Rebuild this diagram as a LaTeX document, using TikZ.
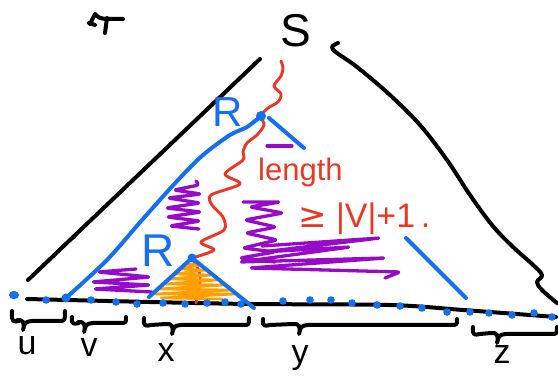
\documentclass[tikz,border=0pt]{standalone}
\usepackage{fontspec}
\setmainfont{Liberation Sans}
\newfontfamily\symf{DejaVu Sans}
\definecolor{pblue}{RGB}{20,112,240}
\definecolor{pred}{RGB}{235,55,35}
\definecolor{ppurple}{RGB}{150,10,200}
\definecolor{porange}{RGB}{255,160,0}
\newcommand\mybr[5]{% x1, xt, x2, ytop, ybase
  \draw[blk] ({#1},{#4}) .. controls ({#1-1},{#5+2}) and ({#1+2},{#5+1}) .. ({#1+7},{#5})
    -- ({#2-7},{#5-1}) .. controls ({#2-1},{#5-2}) and ({#2+1},{#5+2}) .. ({#2-1},{#5+9})
    .. controls ({#2+1},{#5+1}) .. ({#2+8},{#5})
    -- ({#3-6},{#5}) .. controls ({#3},{#5}) .. ({#3},{#4});}
\begin{document}
\begin{tikzpicture}[x=1pt,y=-1pt,
  ink/.style={line width=4pt,line cap=round,line join=round},
  blk/.style={ink,black},
  blu/.style={ink,pblue},
  redw/.style={line width=2.9pt,line cap=round,line join=round,pred},
  purp/.style={line width=3.3pt,line cap=round,line join=round,ppurple,rounded corners=2.5pt},
  oran/.style={line width=2.6pt,line cap=round,line join=round,porange,rounded corners=2pt},
  lbl/.style={inner sep=0pt,anchor=base,font=\fontsize{34}{34}\selectfont},
  bluetxt/.style={inner sep=0pt,anchor=base,text=pblue},
  redtxt/.style={inner sep=0pt,anchor=base west,text=pred}]
\useasboundingbox (0,0) rectangle (558,377);

% tau-like mark
\draw[blk] (90,24) -- (95,14) .. controls (99,18) .. (106,19) -- (123,19);
\draw[blk] (107,18) -- (105,33);
\draw[blk] (89,23) -- (95,25);

% outer tree
\draw[blk] (260,59) -- (28,280);
\draw[blk,line width=2.6pt] (70,240) -- (75,237);
\draw[blk] plot[smooth,tension=0.6] coordinates {(338,43) (332,47) (337,53) (357,67) (390,95) (420,125) (447,160) (470,195) (492,225) (512,246) (532,264) (542,275) (537,282) (542,290) (557,303)};
\draw[blk] plot[smooth] coordinates {(27,299) (150,302) (250,304) (390,305) (463,310) (556,317)};

% purple scribbles
\draw[purp] (196,181) -- (199,185) -- (174,190) -- (201,194) -- (168,198) -- (200,203) -- (166,208) -- (201,212) -- (167,217) -- (200,221) -- (170,226) -- (199,229);
\draw[purp] (136,269) -- (98,272) -- (150,277) -- (92,282) -- (150,285) -- (94,289) -- (152,292);
\draw[purp] (243,202) -- (280,202) -- (250,207) -- (283,213) -- (245,220) -- (276,227) -- (246,233) -- (277,240) -- (243,248) -- (275,252) -- (240,258) -- (275,262);
\draw[purp] (262,246) -- (380,238) -- (262,252) -- (350,247) -- (240,262) -- (385,258) -- (250,268) -- (400,272) -- (385,278);
\draw[purp] (267,146) -- (292,146);

% blue parse subtree
\coordinate (r1) at (261,116);
\coordinate (r2) at (192,258);
\draw[blu] plot[smooth] coordinates {(261,116) (247,127) (230,135) (203,155) (178,180) (142,220) (107,260) (67,297)};
\draw[blu] (269,118) -- (304,148);
\draw[blu] (406,238) -- (466,298);

% red path
\draw[redw] plot[smooth] coordinates {(281,61) (283,68) (281,76) (274,86) (281,94) (278,102) (268,108) (261,116) (264,125) (257,135) (247,143) (243,152) (243,160) (225,174) (240,184) (211,195) (212,205) (223,217) (224,230) (201,242) (214,250) (192,258)};
\draw[redw] (r2) .. controls (202,275) .. (196,303);

% inner subtree
\draw[oran] (185,264) -- (200,265) -- (179,269) -- (206,270) -- (174,274) -- (212,275) -- (169,279) -- (218,280) -- (164,284) -- (225,285) -- (158,289) -- (232,290) -- (153,294) -- (236,294) -- (160,298) -- (222,299);
\draw[blu] (149,297) -- (r2) -- (254,308);
\fill[pblue] (r1) circle (5);
\fill[pblue] (r2) circle (4.5);

% blue dotted yield
\fill[pblue] (14,295) ellipse (5 and 4.2);
\fill[pblue] (66,298) circle (4.5);
\foreach \p in {(46,300),(91,300),(116,302),(137,304),(163,303),(185,304),(207,303),(225,302),(241,304),(283,301),(310,300),(331,300),(352,303),(377,305),(400,306),(422,308),(447,312),(470,312),(489,313),(512,315),(534,313),(552,317)}
  \fill[pblue] \p circle (3.8);

% braces
\mybr{12}{24}{65}{311}{321}
\mybr{72}{85}{126}{317}{323}
\mybr{144}{173}{249}{318}{325}
\mybr{263}{300}{457}{319}{325}
\mybr{473}{498}{557}{327}{334}

% texts
\node[inner sep=0pt,anchor=base,font=\fontsize{46}{46}\selectfont] (S) at (296,47) {S};
\node[bluetxt,font=\fontsize{42}{42}\selectfont] (R1) at (228,127) {R};
\node[bluetxt,font=\fontsize{46}{46}\selectfont] (R2) at (158,267) {R};
\node[redtxt,font=\fontsize{31}{31}\selectfont] (len) at (258,181) {length};
\node[redtxt,font=\fontsize{34}{34}\selectfont] (ineq) at (298,228) {{\symf ≥} |V|+1\,.};
\node[lbl] (lu) at (27,355) {u};
\node[lbl] (lv) at (89,357) {v};
\node[lbl] (lx) at (166,362) {x};
\node[lbl] (ly) at (300,364) {y};
\node[lbl] (lz) at (502,363) {z};
\end{tikzpicture}
\end{document}
